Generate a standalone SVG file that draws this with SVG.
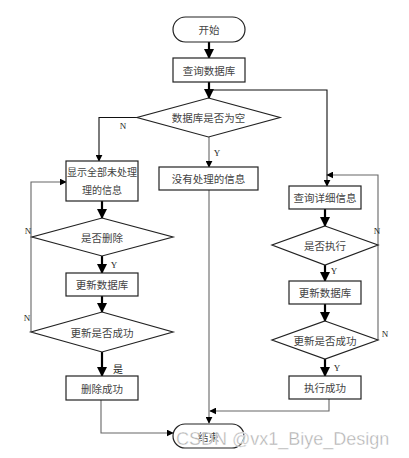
<svg xmlns="http://www.w3.org/2000/svg" width="409" height="458" viewBox="0 0 409 458">
<defs>
<marker id="ah" viewBox="0 0 10 10" refX="9" refY="5" markerWidth="7" markerHeight="7" markerUnits="userSpaceOnUse" orient="auto"><path d="M0,0 L10,5 L0,10 z" fill="#000"/></marker>
<marker id="ahb" viewBox="0 0 10 10" refX="9" refY="5" markerWidth="10" markerHeight="10" markerUnits="userSpaceOnUse" orient="auto"><path d="M0,0 L10,5 L0,10 z" fill="#000"/></marker>
<style>
.shape{fill:#fff;stroke:#222;stroke-width:1.2}
.t{font-family:"Noto Sans CJK SC","Noto Sans CJK JP",sans-serif;font-size:10.5px;fill:#444;text-anchor:middle;dominant-baseline:central}
.ts{font-size:10px}
.lab{font-family:"Liberation Serif",serif;font-size:9px;fill:#222;text-anchor:middle;dominant-baseline:central}
.labc{font-family:"Noto Sans CJK SC",sans-serif;font-size:10px;fill:#222;text-anchor:middle;dominant-baseline:central}
.thin{fill:none;stroke:#111;stroke-width:1.1;marker-end:url(#ah)}
.gray{fill:none;stroke:#666;stroke-width:1.1;marker-end:url(#ah)}
.thick{fill:none;stroke:#000;stroke-width:2.2;marker-end:url(#ahb)}
.nm{fill:none;stroke:#666;stroke-width:1.1}
.wm{font-family:"Liberation Sans",Arial,sans-serif;font-size:18px;fill:#b0b0b0;stroke:#fff;stroke-width:0.4}
</style>
</defs>
<rect width="409" height="458" fill="#fff"/>
<g id="connectors">
<path class="thick" d="M209,42 V58"/>
<path class="thick" d="M209,82 V98"/>
<path class="thin" d="M209,90 H327 V186"/>
<path class="thin" d="M137,117.5 H99 V161"/>
<path class="gray" d="M209,137 V167"/>
<path class="gray" d="M209,190 V423"/>
<path class="thick" d="M102,201 V218"/>
<path class="thick" d="M102,256 V273"/>
<path class="thick" d="M102,296 V312"/>
<path class="thick" d="M102,352 V376"/>
<path class="gray" d="M101,400 V433 H173"/>
<path class="nm" d="M32,237 H33"/>
<path class="gray" d="M31,332 V182 H66"/>
<path class="thick" d="M325,209 V226"/>
<path class="thick" d="M325,265 V281"/>
<path class="thick" d="M325,304 V321"/>
<path class="thick" d="M325,359 V376"/>
<path class="gray" d="M329,399 V411 H210"/>
<path class="gray" d="M378,340 V175 H327"/>
<text class="lab" x="123" y="126">N</text>
<text class="lab" x="217" y="153">Y</text>
<text class="lab" x="114" y="265">Y</text>
<text class="labc" x="118" y="368">是</text>
<text class="lab" x="28" y="231">N</text>
<text class="lab" x="27" y="318">N</text>
<text class="lab" x="334" y="271">Y</text>
<text class="lab" x="337" y="368">Y</text>
<text class="lab" x="377" y="231">N</text>
<text class="lab" x="385" y="334">N</text>
</g>
<g id="start"><rect class="shape" x="173" y="17" width="72" height="25" rx="12.5"/><text class="t" x="209" y="29.5">开始</text></g>
<g id="query-db"><rect class="shape" x="173" y="58" width="72" height="24"/><text class="t" x="209" y="70">查询数据库</text></g>
<g id="db-empty"><polygon class="shape" points="208.5,98 280,117.5 208.5,137 137,117.5"/><text class="t" x="208.5" y="117.5">数据库是否为空</text></g>
<g id="show-all"><rect class="shape" x="66" y="161" width="72" height="40"/><text class="t ts" x="102" y="171.5">显示全部未处理</text><text class="t ts" x="102" y="189">理的信息</text></g>
<g id="no-info"><rect class="shape" x="159" y="167" width="99" height="23"/><text class="t" x="208.5" y="178.5">没有处理的信息</text></g>
<g id="is-delete"><polygon class="shape" points="102,218 173,237 102,256 32,237"/><text class="t" x="102" y="237">是否删除</text></g>
<g id="update-db-l"><rect class="shape" x="66" y="273" width="72" height="23"/><text class="t" x="102" y="284.5">更新数据库</text></g>
<g id="update-ok-l"><polygon class="shape" points="102,312 173,332 102,352 31,332"/><text class="t" x="102" y="332">更新是否成功</text></g>
<g id="delete-ok"><rect class="shape" x="66" y="376" width="72" height="24"/><text class="t" x="102" y="388">删除成功</text></g>
<g id="query-detail"><rect class="shape" x="289" y="186" width="72" height="23"/><text class="t" x="325" y="197.5">查询详细信息</text></g>
<g id="is-exec"><polygon class="shape" points="325,226 378,245 325,265 272,245"/><text class="t" x="325" y="245">是否执行</text></g>
<g id="update-db-r"><rect class="shape" x="289" y="281" width="72" height="23"/><text class="t" x="325" y="292.5">更新数据库</text></g>
<g id="update-ok-r"><polygon class="shape" points="325,321 378,340 325,359 272,340"/><text class="t" x="325" y="340">更新是否成功</text></g>
<g id="exec-ok"><rect class="shape" x="289" y="376" width="72" height="23"/><text class="t" x="325" y="387.5">执行成功</text></g>
<g id="end"><rect class="shape" x="173" y="424" width="71" height="24" rx="12"/><text class="t" x="208.5" y="436">结束</text></g>
<text class="wm" x="176" y="445">CSDN @vx1_Biye_Design</text>
</svg>
